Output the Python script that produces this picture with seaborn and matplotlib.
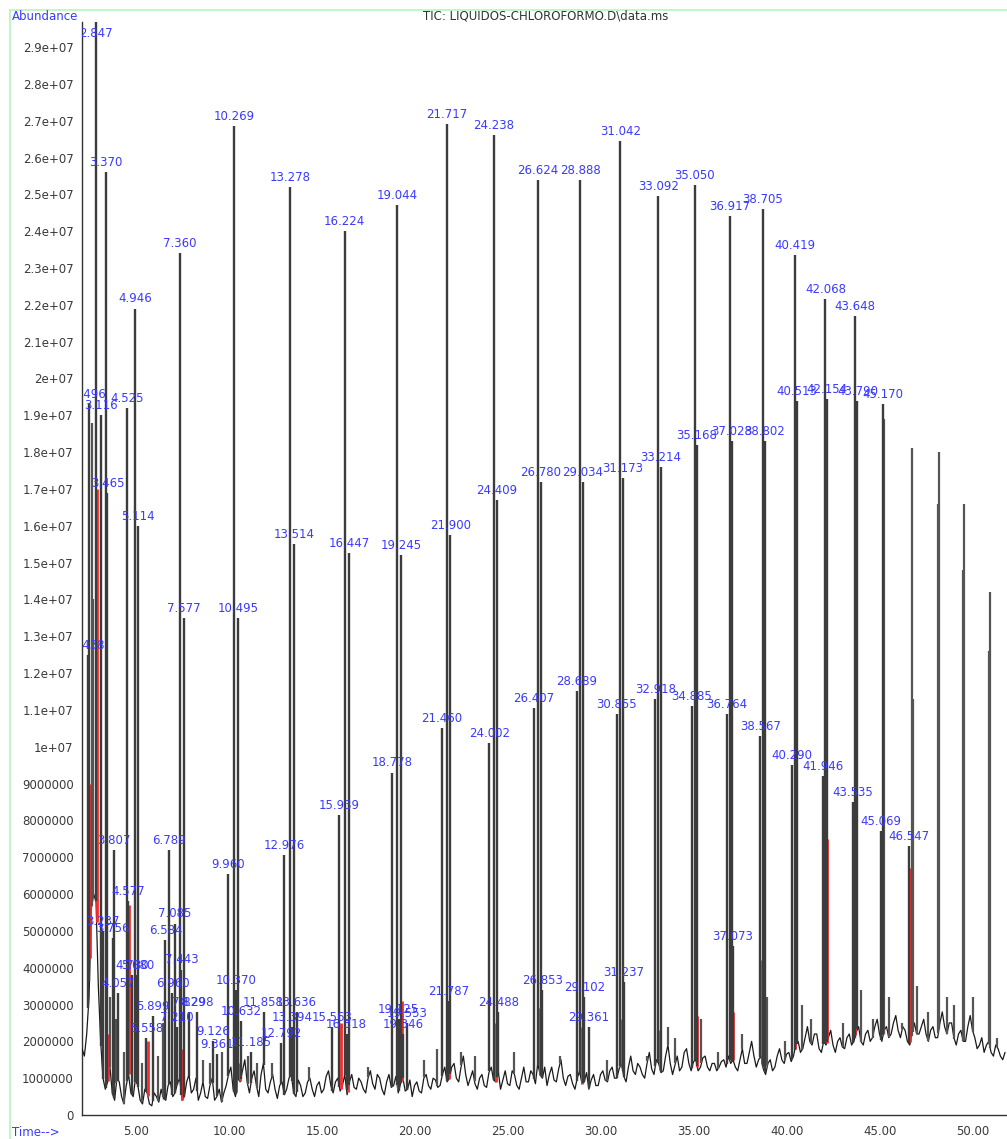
import numpy as np
import pandas as pd
import matplotlib
matplotlib.use("Agg")
import matplotlib.pyplot as plt
from matplotlib.ticker import MultipleLocator, FuncFormatter, FixedLocator
from matplotlib.lines import Line2D
import seaborn as sns

# ---------------- data (abundance in units of 1e6) ----------------
baseline_start = 2.10
baseline_step = 0.125
baseline_abund = [
    1.8, 1.6, 2.2, 3.2, 5.6, 6.0, 5.8, 3.5, 2.0, 1.0, 0.7, 0.9, 1.3, 0.6, 0.4, 1.0, 0.9, 0.5, 0.3, 0.8,
    1.1, 0.6, 0.5, 1.0, 0.8, 0.4, 0.3, 0.7, 0.6, 0.3, 0.25, 0.6, 0.5, 0.35, 0.7, 0.45, 0.4, 0.8, 0.9, 0.5,
    0.6, 0.85, 1.0, 0.4, 0.5, 0.9, 1.1, 0.6, 0.7, 1.0, 0.4, 0.6, 0.9, 0.5, 0.45, 0.8, 1.0, 0.4, 0.5, 0.7,
    0.35, 0.6, 0.8, 1.1, 1.3, 0.7, 0.5, 1.0, 0.9, 1.2, 1.5, 0.9, 0.6, 1.0, 1.2, 0.8, 0.5, 1.1, 1.4, 0.7,
    0.6, 0.9, 1.1, 0.7, 0.45, 0.8, 0.9, 0.55, 0.7, 1.0, 1.1, 0.6, 0.5, 0.95, 0.8, 0.5, 0.6, 0.9, 1.0, 0.7,
    0.5, 0.8, 0.9, 0.6, 0.7, 1.05, 1.2, 0.8, 0.6, 0.9, 1.0, 0.65, 0.8, 1.1, 0.55, 0.9, 1.1, 0.75, 0.7, 1.0,
    0.9, 0.7, 0.6, 1.0, 1.2, 0.85, 0.7, 1.1, 1.0, 0.7, 0.55, 0.9, 1.1, 0.75, 0.8, 1.05, 0.6, 0.85, 1.0, 0.65,
    0.7, 0.95, 0.5, 0.8, 0.9, 0.65, 0.6, 1.0, 1.1, 0.8, 0.7, 1.0, 0.95, 0.75, 0.8, 1.1, 1.3, 0.9, 1.0, 1.3,
    1.4, 1.0, 0.9, 1.3, 1.6, 1.1, 0.8, 1.0, 1.2, 0.85, 0.7, 1.0, 1.1, 0.8, 0.75, 1.15, 1.3, 0.95, 0.9, 1.2,
    0.7, 0.95, 1.2, 0.85, 0.8, 1.2, 1.1, 0.8, 0.7, 1.0, 1.3, 0.9, 0.9, 1.2, 1.1, 0.85, 1.4, 1.1, 1.0, 1.3,
    0.8, 1.1, 1.3, 0.95, 0.9, 1.25, 1.5, 1.0, 0.8, 1.05, 1.1, 0.85, 0.7, 1.0, 1.2, 0.85, 0.9, 1.15, 0.7, 0.95,
    1.1, 0.8, 0.8, 1.1, 1.2, 0.95, 0.9, 1.2, 1.3, 1.0, 1.0, 1.25, 1.4, 1.05, 0.9, 1.3, 1.6, 1.2, 1.1, 1.4,
    1.3, 1.1, 1.0, 1.4, 1.7, 1.25, 1.1, 1.5, 1.4, 1.15, 1.2, 1.6, 1.9, 1.4, 1.1, 1.35, 1.6, 1.2, 1.3, 1.7,
    1.8, 1.4, 1.2, 1.45, 1.5, 1.2, 1.3, 1.55, 1.6, 1.3, 1.2, 1.4, 1.4, 1.2, 1.3, 1.45, 1.5, 1.3, 1.6, 1.4,
    1.5, 1.3, 1.2, 1.5, 1.8, 1.4, 1.4, 1.7, 2.0, 1.6, 1.3, 1.5, 1.6, 1.25, 1.1, 1.4, 1.5, 1.2, 1.3, 1.6,
    1.8, 1.5, 1.4, 1.65, 1.7, 1.45, 1.6, 1.9, 2.0, 1.7, 1.8, 2.1, 2.4, 2.0, 1.9, 2.2, 2.2, 1.8, 1.7, 2.0,
    1.9, 2.1, 2.3, 1.9, 1.7, 2.0, 2.1, 1.85, 1.8, 2.1, 2.2, 1.9, 2.0, 2.25, 2.4, 2.0, 1.9, 2.2, 2.3, 2.0,
    2.1, 2.4, 2.6, 2.2, 2.0, 2.3, 2.4, 2.1, 2.2, 2.5, 2.7, 2.3, 2.1, 2.4, 2.3, 2.0, 1.9, 2.2, 2.5, 2.2,
    2.2, 2.4, 2.6, 2.2, 2.0, 2.3, 2.4, 2.1, 2.1, 2.5, 2.8, 2.4, 2.2, 2.5, 2.5, 2.1, 1.9, 2.2, 2.3, 2.0,
    2.0, 2.4, 2.7, 2.3, 2.1, 1.8, 1.9, 2.1, 1.7, 1.9, 2.0, 1.7, 1.6, 1.9, 1.8, 1.6, 1.5, 1.7,
]

peak_times = [
    2.438, 2.496, 2.847, 3.116, 3.237, 3.370, 3.465, 3.756, 3.807, 4.057,
    4.525, 4.577, 4.780, 4.946, 5.080, 5.114, 5.558, 5.899, 6.584, 6.789,
    6.960, 7.085, 7.210, 7.360, 7.443, 7.577, 7.829, 8.298, 9.126, 9.361,
    9.960, 10.269, 10.370, 10.495, 10.632, 11.185, 11.858, 12.792, 12.976, 13.278,
    13.394, 13.514, 13.636, 15.563, 15.939, 16.224, 16.318, 16.447, 18.778, 19.044,
    19.125, 19.245, 19.346, 19.553, 21.460, 21.717, 21.787, 21.900, 24.002, 24.238,
    24.409, 24.488, 26.407, 26.624, 26.780, 26.853, 28.689, 28.888, 29.034, 29.102,
    29.361, 30.855, 31.042, 31.173, 31.237, 32.918, 33.092, 33.214, 34.885, 35.050,
    35.168, 36.764, 36.917, 37.028, 37.073, 38.567, 38.705, 38.802, 40.290, 40.419,
    40.513, 41.946, 42.068, 42.154, 43.535, 43.648, 43.790, 45.069, 45.170, 46.547,
]
peak_heights = [
    12.5, 19.3, 29.9, 19.0, 5.0, 25.6, 16.9, 4.8, 7.2, 3.3,
    19.2, 5.8, 3.8, 21.9, 3.8, 16.0, 2.1, 2.7, 4.75, 7.2,
    3.3, 5.2, 2.4, 23.4, 3.95, 13.5, 2.8, 2.8, 2.0, 1.65,
    6.55, 26.85, 3.4, 13.5, 2.55, 1.7, 2.8, 1.95, 7.05, 25.2,
    2.4, 15.5, 2.8, 2.4, 8.15, 24.0, 2.2, 15.25, 9.3, 24.7,
    2.6, 15.2, 2.2, 2.5, 10.5, 26.9, 3.1, 15.75, 10.1, 26.6,
    16.7, 2.8, 11.05, 25.4, 17.2, 3.4, 11.5, 25.4, 17.2, 3.2,
    2.4, 10.9, 26.45, 17.3, 3.6, 11.3, 24.95, 17.6, 11.1, 25.25,
    18.2, 10.9, 24.4, 18.3, 4.6, 10.3, 24.6, 18.3, 9.5, 23.35,
    19.4, 9.2, 22.15, 19.45, 8.5, 21.7, 19.4, 7.7, 19.3, 7.3,
]

# unlabeled peaks and spikes
unlabeled_times = [
    2.62, 2.70, 3.60, 3.95, 4.35, 5.30, 6.20, 6.45, 8.60, 9.00, 9.60, 11.00, 11.50,
    12.30, 14.30, 17.50, 20.50, 21.20, 22.50, 23.20, 25.30, 27.80, 30.30, 32.50,
    33.60, 34.00, 35.40, 36.30, 37.60, 38.95, 39.90, 40.80, 41.30, 43.00, 44.00,
    44.60, 45.20, 45.50, 46.20, 46.70, 46.75, 47.00, 47.60, 48.14, 48.17, 48.60,
    49.00, 49.48, 49.50, 50.00, 50.88, 50.92, 51.30,
]
unlabeled_heights = [
    18.8, 14.0, 3.2, 2.6, 1.7, 1.4, 1.6, 2.5, 1.5, 1.4, 1.7, 1.6, 1.4,
    1.4, 1.3, 1.3, 1.5, 1.8, 1.7, 1.6, 1.7, 1.6, 1.5, 1.6,
    2.4, 2.1, 2.6, 1.7, 2.2, 3.2, 2.0, 3.0, 2.6, 2.5, 3.4,
    2.6, 18.9, 3.2, 2.5, 18.1, 11.3, 3.5, 2.8, 16.6, 18.0, 3.2,
    3.0, 14.8, 16.6, 3.2, 12.6, 14.2, 2.1,
]

# integrated (red) portions at the base of peaks
red_times = [2.45, 2.80, 3.40, 4.52, 5.55, 7.40, 10.30, 10.50, 13.30, 15.95, 16.30, 19.00,
             19.20, 21.75, 24.25, 26.65, 28.90, 31.05, 33.10, 35.10, 37.00, 38.60, 40.35,
             42.05, 43.60, 45.10, 46.55]
red_heights = [9.0, 17.0, 2.2, 5.7, 2.0, 1.8, 2.3, 1.4, 1.5, 2.5, 1.0, 2.4,
               3.1, 1.8, 2.5, 2.9, 2.4, 2.6, 2.3, 2.7, 2.8, 4.2, 4.9,
               7.5, 9.6, 6.6, 6.7]

y_tick_values = [i * 1e6 for i in range(0, 30)]
x_tick_values = [5, 10, 15, 20, 25, 30, 35, 40, 45, 50]
x_tick_labels = ["5.00", "10.00", "15.00", "20.00", "25.00", "30.00", "35.00", "40.00", "45.00", "50.00"]

title_text = "TIC: LIQUIDOS-CHLOROFORMO.D\\data.ms"

# ---------------- figure ----------------
sns.set_style("white")
plt.rcParams["font.family"] = ["DejaVu Sans"]

W, H = 1007, 1139
fig = plt.figure(figsize=(W / 100, H / 100), dpi=100)
ax_left, ax_right, ax_top, ax_bottom = 82, 1007, 22, 1115
ax = fig.add_axes([ax_left / W, 1 - ax_bottom / H, (ax_right - ax_left) / W, (ax_bottom - ax_top) / H])

SCALE = 1e6
bt = np.round(baseline_start + baseline_step * np.arange(len(baseline_abund)), 3)
bv = np.array(baseline_abund) * SCALE
df_base = pd.DataFrame({"time": bt, "abund": bv})

def base_at(t):
    return np.interp(t, bt, bv)

# baseline trace
sns.lineplot(data=df_base, x="time", y="abund", ax=ax, color="#1a1a1a", lw=0.9,
             estimator=None, sort=True, zorder=3)

# red integrated regions (beside the peaks)
rt = np.array(red_times) + 0.08
ax.vlines(rt, base_at(rt), np.array(red_heights) * SCALE,
          color="#ff2a2a", lw=2.0, zorder=3.5)

# peaks
ut = np.array(unlabeled_times)
ax.vlines(ut, base_at(ut), np.array(unlabeled_heights) * SCALE, color="#555555", lw=1.6, zorder=4)
pt = np.array(peak_times)
ph = np.array(peak_heights) * SCALE
ax.vlines(pt, base_at(pt), ph, color="#3c3c3c", lw=1.7, zorder=4)

ymax = 29.68e6
xmin, xmax = 2.097, 51.83
ax.set_xlim(xmin, xmax)
ax.set_ylim(0, ymax)

# peak labels
for t, h in zip(peak_times, ph):
    ax.annotate(f"{t:.3f}", xy=(t, min(h, 29.1e6)), xytext=(0, 2.2), textcoords="offset points",
                ha="center", va="bottom", color="#3a3aff", fontsize=8.5, clip_on=True,
                annotation_clip=False, zorder=6)

# axes styling
for s in ["top", "right"]:
    ax.spines[s].set_visible(False)
for s in ["left", "bottom"]:
    ax.spines[s].set_color("#333333")
    ax.spines[s].set_linewidth(1.0)

ax.yaxis.set_major_locator(FixedLocator(y_tick_values))
ax.yaxis.set_minor_locator(MultipleLocator(2e5))

def yfmt(v, pos):
    if v < 1e7 - 1:
        return str(int(round(v)))
    return "%g" % v

ax.yaxis.set_major_formatter(FuncFormatter(yfmt))
ax.set_xticks(x_tick_values)
ax.set_xticklabels(x_tick_labels)
ax.xaxis.set_minor_locator(MultipleLocator(1))
ax.tick_params(axis="both", which="major", direction="out", length=4, width=0.8,
               color="#333333", labelsize=8.5, labelcolor="#3a3a3a", pad=2)
ax.tick_params(axis="both", which="minor", direction="out", length=2, width=0.6, color="#333333")
ax.tick_params(axis="x", which="minor", length=3)
ax.tick_params(axis="x", which="major", pad=3)
ax.set_xlabel("")
ax.set_ylabel("")
ax.grid(False)

# frame and texts
fig.add_artist(Line2D([10 / W, 10 / W], [0, 1 - 10 / H], color="#b9f3b9", lw=1.2))
fig.add_artist(Line2D([10 / W, 1], [1 - 10 / H, 1 - 10 / H], color="#b9f3b9", lw=1.2))
fig.text(12 / W, 1 - 16 / H, "Abundance", color="#3a3aff", fontsize=8.5, ha="left", va="center")
fig.text(546 / W, 1 - 16 / H, title_text, color="#333333", fontsize=8.5, ha="center", va="center")
fig.text(12 / W, 1 - 1133 / H, "Time-->", color="#3a3aff", fontsize=8.5, ha="left", va="center")

fig.savefig("out.png", dpi=100)
